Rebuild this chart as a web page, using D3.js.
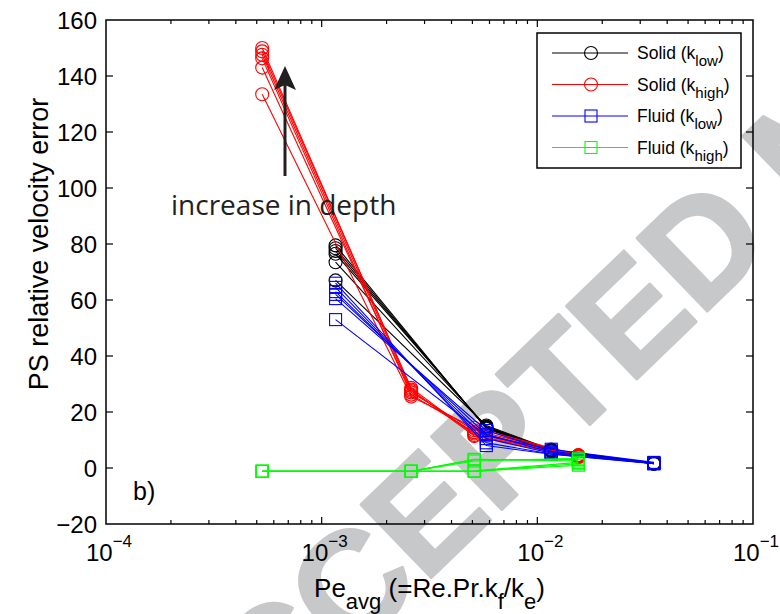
<!DOCTYPE html>
<html>
<head>
<meta charset="utf-8">
<script src="https://cdn.jsdelivr.net/npm/d3@7/dist/d3.min.js"></script>
<style>
  html, body { margin: 0; padding: 0; background: #fff; }
  svg { display: block; }
</style>
</head>
<body>
<svg id="chart" width="780" height="614"></svg>
<script>
// Pe values, one set for each conductivity case
const peHigh = [5.3e-4, 2.6e-3, 5.1e-3, 1.55e-2]
const peLow = [1.16e-3, 5.8e-3, 1.16e-2, 3.47e-2]

// one row per depth
const solidLow = [
  [67, 15.2, 6.6, 1.8],
  [73.5, 14.8, 6.4, 1.7],
  [76.5, 14.6, 6.3, 1.6],
  [77.5, 14.4, 6.2, 1.6],
  [78.5, 14.2, 6.1, 1.5],
  [79.5, 14.0, 6.0, 1.5],
]
const solidHigh = [
  [133.5, 25.5, 14.4, 4.6],
  [143, 27, 13.5, 4.5],
  [146.3, 26.2, 12.8, 4.4],
  [147.6, 27.5, 12.3, 4.2],
  [148.8, 28.6, 11.8, 4.0],
  [150, 28, 11.4, 3.8],
]
const fluidLow = [
  [53, 11.5, 6.7, 2.0],
  [60.5, 13.4, 6.0, 1.8],
  [62, 12, 5.6, 1.7],
  [63, 10.5, 5.3, 1.6],
  [64.5, 9, 5.0, 1.6],
  [66, 8, 4.9, 1.5],
]
const fluidHigh = [
  [-1.2, -1.2, -1.2, 1.0],
  [-1.2, -1.2, -1.2, 1.5],
  [-1.2, -1.2, -1.0, 2.0],
  [-1.2, -1.2, 3.1, 2.5],
  [-1.2, -1.2, 3.0, 3.0],
  [-1.2, -1.2, 2.5, 3.5],
]

const yTicks = [-20, 0, 20, 40, 60, 80, 100, 120, 140, 160]
const xTickExps = [-4, -3, -2, -1]

const series = [
  { rows: solidLow, pe: peLow, color: '#000000', marker: 'circle', name: 'Solid (k', sub: 'low' },
  { rows: solidHigh, pe: peHigh, color: '#ff0000', marker: 'circle', name: 'Solid (k', sub: 'high' },
  { rows: fluidLow, pe: peLow, color: '#0000ff', marker: 'square', name: 'Fluid (k', sub: 'low' },
  { rows: fluidHigh, pe: peHigh, color: '#00ff00', marker: 'square', name: 'Fluid (k', sub: 'high' },
]

const svg = d3.select('#chart')
const font = 'Liberation Sans, Arial, Helvetica, sans-serif'
const axLeft = 106, axRight = 753, axTop = 20, axBottom = 524

const x = d3.scaleLog().domain([1e-4, 1e-1]).range([axLeft, axRight])
const y = d3.scaleLinear().domain([-20, 160]).range([axBottom, axTop])

// watermark, behind everything
const wm = svg
  .append('text')
  .text('ACCEPTED MANUSCRIPT')
  .attr('font-family', font)
  .attr('font-weight', 'bold')
  .attr('font-size', 100)
  .attr('fill', '#c7c8ca')
  .attr('stroke', '#c7c8ca')
  .attr('stroke-width', 3)
  .attr('stroke-linejoin', 'round')
function charCenter(i) {
  const n = wm.node()
  const s = n.getStartPositionOfChar(i)
  const e = n.getEndPositionOfChar(i)
  return (s.x + e.x) / 2
}
{
  const angle = -44
  const wantDist = 490
  const fs = (100 * wantDist) / (charCenter(7) - charCenter(2))
  wm.attr('font-size', fs)
  const cx = charCenter(7)
  const cy = -0.358 * fs
  const a = (angle * Math.PI) / 180
  const rx = cx * Math.cos(a) - cy * Math.sin(a)
  const ry = cx * Math.sin(a) + cy * Math.cos(a)
  wm.attr('transform', `translate(${702 - rx},${243 - ry}) rotate(${angle})`)
}

// plotted series
const line = d3
  .line()
  .x((d) => x(d[0]))
  .y((d) => y(d[1]))

function drawMarker(g, type, px, py, color) {
  if (type == 'circle') {
    g.append('circle')
      .attr('cx', px)
      .attr('cy', py)
      .attr('r', 6.5)
      .attr('fill', 'none')
      .attr('stroke', color)
      .attr('stroke-width', 1.1)
  } else {
    g.append('rect')
      .attr('x', px - 6)
      .attr('y', py - 6)
      .attr('width', 12)
      .attr('height', 12)
      .attr('fill', 'none')
      .attr('stroke', color)
      .attr('stroke-width', 1.1)
  }
}

const plot = svg.append('g').attr('class', 'series')
series.forEach((s) => {
  const g = plot.append('g')
  s.rows.forEach((row) => {
    const pts = row.map((v, i) => [s.pe[i], v])
    g.append('path')
      .attr('d', line(pts))
      .attr('fill', 'none')
      .attr('stroke', s.color)
      .attr('stroke-width', 1.1)
    pts.forEach((p) => drawMarker(g, s.marker, x(p[0]), y(p[1]), s.color))
  })
})

// axes box and ticks (inside, MATLAB style)
const axes = svg.append('g').attr('class', 'axes')
axes
  .append('rect')
  .attr('x', axLeft)
  .attr('y', axTop)
  .attr('width', axRight - axLeft)
  .attr('height', axBottom - axTop)
  .attr('fill', 'none')
  .attr('stroke', '#000')
  .attr('stroke-width', 1.5)

x.ticks().forEach((t) => {
  const major = Math.abs(Math.log10(t) - Math.round(Math.log10(t))) < 1e-9
  const len = major ? 7 : 4
  if (t <= 1e-4 || t >= 1e-1) return
  axes.append('line').attr('x1', x(t)).attr('x2', x(t)).attr('y1', axBottom).attr('y2', axBottom - len).attr('stroke', '#000').attr('stroke-width', 1.2)
  axes.append('line').attr('x1', x(t)).attr('x2', x(t)).attr('y1', axTop).attr('y2', axTop + len).attr('stroke', '#000').attr('stroke-width', 1.2)
})
yTicks.forEach((t) => {
  if (t == -20 || t == 160) return
  axes.append('line').attr('x1', axLeft).attr('x2', axLeft + 7).attr('y1', y(t)).attr('y2', y(t)).attr('stroke', '#000').attr('stroke-width', 1.2)
  axes.append('line').attr('x1', axRight).attr('x2', axRight - 7).attr('y1', y(t)).attr('y2', y(t)).attr('stroke', '#000').attr('stroke-width', 1.2)
})

// tick labels
yTicks.forEach((t) => {
  svg
    .append('text')
    .attr('x', axLeft - 9)
    .attr('y', y(t) + 8.5)
    .attr('text-anchor', 'end')
    .attr('font-family', font)
    .attr('font-size', 24)
    .text(t < 0 ? '\u2212' + Math.abs(t) : t)
})
xTickExps.forEach((e) => {
  const t = svg
    .append('text')
    .attr('x', x(Math.pow(10, e)) + 3)
    .attr('y', 561)
    .attr('text-anchor', 'middle')
    .attr('font-family', font)
    .attr('font-size', 24)
  t.append('tspan').text('10')
  t.append('tspan').attr('dy', -14).attr('font-size', 17).text('\u2212' + Math.abs(e))
})

// axis titles
const xl = svg
  .append('text')
  .attr('x', (axLeft + axRight) / 2)
  .attr('y', 597)
  .attr('text-anchor', 'middle')
  .attr('font-family', font)
  .attr('font-size', 26)
xl.append('tspan').text('Pe')
xl.append('tspan').attr('dy', 12).attr('font-size', 22).text('avg')
xl.append('tspan').attr('dy', -12).text(' (=Re.Pr.k')
xl.append('tspan').attr('dy', 12).attr('font-size', 22).text('f')
xl.append('tspan').attr('dy', -12).text('/k')
xl.append('tspan').attr('dy', 12).attr('font-size', 22).text('e')
xl.append('tspan').attr('dy', -12).text(')')

svg
  .append('text')
  .attr('transform', 'translate(48,244) rotate(-90)')
  .attr('text-anchor', 'middle')
  .attr('font-family', font)
  .attr('font-size', 27)
  .text('PS relative velocity error')

// annotation
svg
  .append('line')
  .attr('x1', 285)
  .attr('x2', 285)
  .attr('y1', 176)
  .attr('y2', 84)
  .attr('stroke', '#231f20')
  .attr('stroke-width', 3)
svg
  .append('path')
  .attr('d', 'M285,66 L296,90 L285,85 L274,90 Z')
  .attr('fill', '#231f20')
svg
  .append('text')
  .attr('x', 171)
  .attr('y', 215)
  .attr('font-family', 'Open Sans, sans-serif')
  .attr('font-size', 28)
  .attr('fill', '#231f20')
  .text('increase in depth')
svg
  .append('text')
  .attr('x', 133)
  .attr('y', 500)
  .attr('font-family', font)
  .attr('font-size', 25)
  .text('b)')

// legend
const lg = svg.append('g').attr('class', 'legend')
lg.append('rect')
  .attr('x', 537)
  .attr('y', 33)
  .attr('width', 204)
  .attr('height', 135)
  .attr('fill', '#fff')
  .attr('stroke', '#000')
  .attr('stroke-width', 1.5)
series.forEach((s, i) => {
  const ly = 53 + i * 31.5
  lg.append('line')
    .attr('x1', 552)
    .attr('x2', 628)
    .attr('y1', ly)
    .attr('y2', ly)
    .attr('stroke', s.color)
    .attr('stroke-width', 1.1)
  drawMarker(lg, s.marker, 591, ly, s.color)
  const t = lg
    .append('text')
    .attr('x', 637)
    .attr('y', ly + 6)
    .attr('font-family', font)
    .attr('font-size', 17.5)
  t.append('tspan').text(s.name)
  t.append('tspan').attr('dy', 7).attr('font-size', 15).text(s.sub)
  t.append('tspan').attr('dy', -7).text(')')
})
</script>
</body>
</html>
